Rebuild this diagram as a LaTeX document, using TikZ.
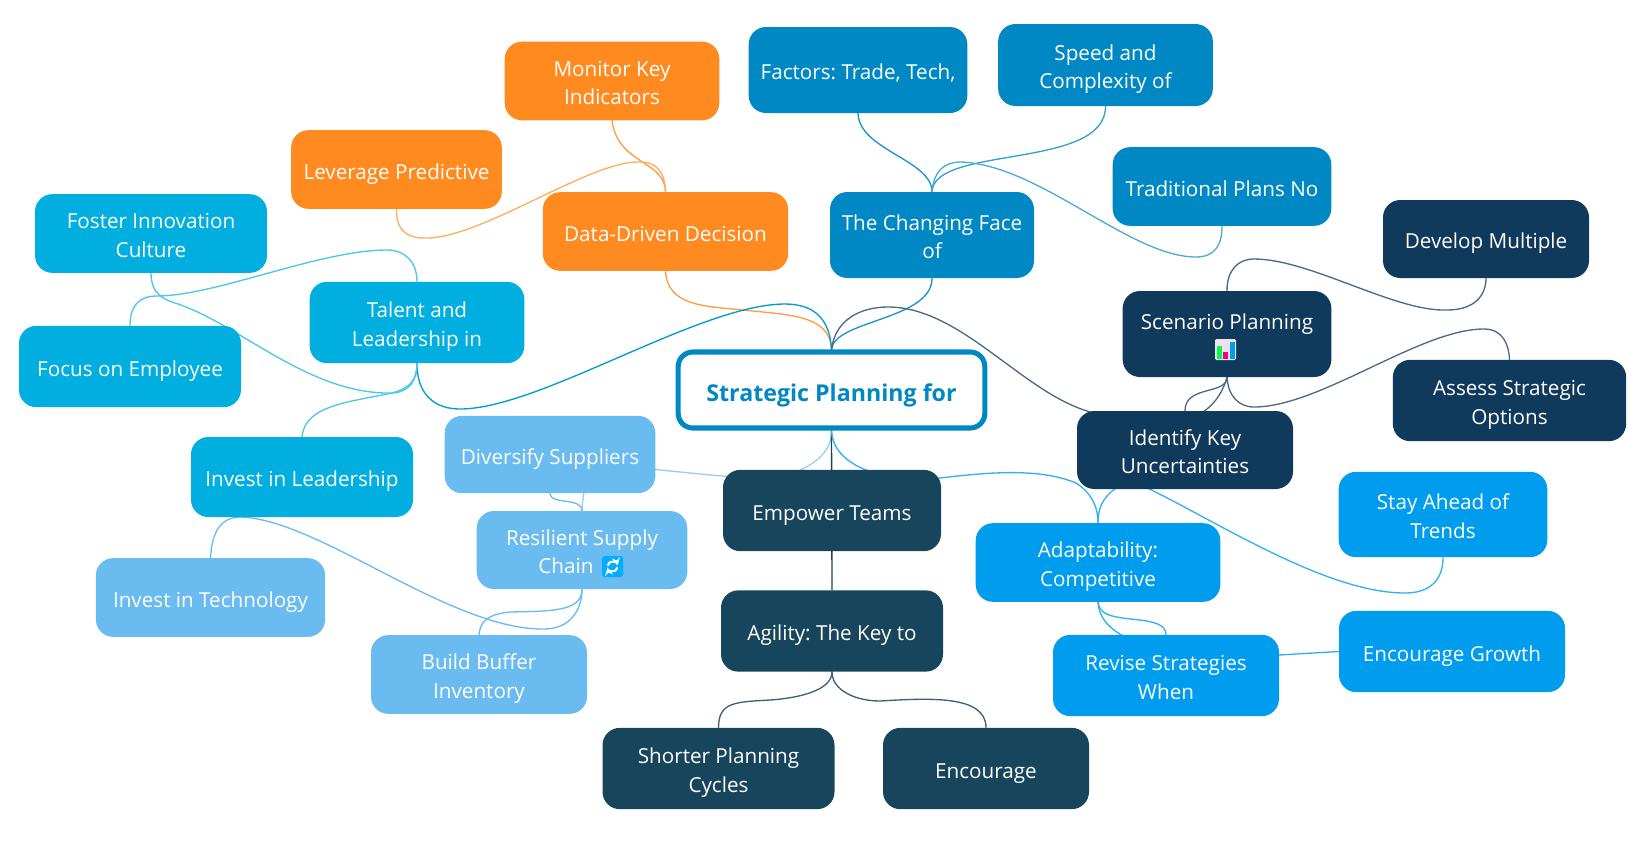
\documentclass[tikz,border=0pt]{standalone}
\usepackage{fontspec}
\setmainfont{Open Sans}
\usetikzlibrary{backgrounds}
\definecolor{orangebr}{HTML}{FF8A20}
\definecolor{changebr}{HTML}{0088C4}
\definecolor{talentbr}{HTML}{00AEE0}
\definecolor{supplybr}{HTML}{69BBF0}
\definecolor{adaptbr}{HTML}{009CEE}
\definecolor{scenbr}{HTML}{0F3A5C}
\definecolor{agilebr}{HTML}{17465C}
\definecolor{iconblue}{HTML}{00AEFF}
\tikzset{
  mapbox/.style={rounded corners=13pt,align=center,text=white,inner sep=0pt,
    font=\fontsize{15.5pt}{21.3pt}\selectfont\frenchspacing,
    execute at begin node={\rule{0pt}{18.4pt}},
    execute at end node={\rule[-4pt]{0pt}{1pt}}},
  twolines/.style={execute at begin node={\rule{0pt}{39.3pt}}},
  orangebox/.style={mapbox,fill=orangebr},
  changebox/.style={mapbox,fill=changebr},
  talentbox/.style={mapbox,fill=talentbr},
  supplybox/.style={mapbox,fill=supplybr},
  adaptbox/.style={mapbox,fill=adaptbr},
  scenbox/.style={mapbox,fill=scenbr},
  agilebox/.style={mapbox,fill=agilebr},
  link/.style={line width=1pt,line cap=round},
}
\begin{document}
\begin{tikzpicture}[x=0.75pt,y=-0.75pt]
\useasboundingbox (0,0) rectangle (1638,847);
% root
\node[mapbox,draw=changebr,fill=white,line width=3.8pt,rounded corners=11pt,text=changebr,
  execute at begin node={\rule{0pt}{21.5pt}},
  minimum width=230pt,minimum height=57pt,font=\fontsize{17.4pt}{21pt}\selectfont\bfseries] (central) at (831.5,390) {Strategic Planning for};
% orange
\node[orangebox,twolines,minimum width=161pt,minimum height=59pt] (monitor) at (612,81) {Monitor Key\\Indicators};
\node[orangebox,minimum width=158pt,minimum height=59pt] (leverage) at (396.5,169.5) {Leverage Predictive};
\node[orangebox,minimum width=184pt,minimum height=59pt] (data) at (665.5,231.5) {Data-Driven Decision};
% changing face
\node[changebox,minimum width=164pt,minimum height=64.5pt] (factors) at (858,70) {Factors: Trade, Tech,};
\node[changebox,twolines,minimum width=161pt,minimum height=61.5pt] (speed) at (1105.5,65) {Speed and\\Complexity of};
\node[changebox,twolines,minimum width=153pt,minimum height=64.5pt] (changing) at (932,235) {The Changing Face\\of};
\node[changebox,minimum width=164pt,minimum height=59pt] (traditional) at (1222,186.5) {Traditional Plans No};
% talent
\node[talentbox,twolines,minimum width=174pt,minimum height=59pt] (foster) at (151,233.5) {Foster Innovation\\Culture};
\node[talentbox,twolines,minimum width=161pt,minimum height=61pt] (talent) at (417,322.5) {Talent and\\Leadership in};
\node[talentbox,minimum width=166.5pt,minimum height=61pt] (focus) at (130,366.5) {Focus on Employee};
\node[talentbox,minimum width=166.5pt,minimum height=60pt] (investl) at (302,477) {Invest in Leadership};
% supply
\node[supplybox,minimum width=158pt,minimum height=58pt] (diversify) at (550,454.5) {Diversify Suppliers};
\node[supplybox,twolines,minimum width=158pt,minimum height=58.5pt] (resilient) at (582,550) {Resilient Supply\\Chain\hspace{24pt}\mbox{}};
\node[supplybox,minimum width=172pt,minimum height=59pt] (investt) at (210.5,597.5) {Invest in Technology};
\node[supplybox,twolines,minimum width=162pt,minimum height=59pt] (buffer) at (479,674.5) {Build Buffer\\Inventory};
% scenario
\node[scenbox,minimum width=154.5pt,minimum height=58.5pt] (develop) at (1486,239) {Develop Multiple};
\node[scenbox,twolines,minimum width=156.5pt,minimum height=64.5pt] (scenario) at (1227,334) {Scenario Planning\\\mbox{}};
\node[scenbox,twolines,minimum width=175pt,minimum height=61pt] (assess) at (1509.5,400.5) {Assess Strategic\\Options};
\node[scenbox,twolines,minimum width=162pt,minimum height=58.5pt] (identify) at (1185,450) {Identify Key\\Uncertainties};
% agility
\node[agilebox,minimum width=163.5pt,minimum height=61pt] (empower) at (832,510.5) {Empower Teams};
\node[agilebox,minimum width=166.5pt,minimum height=61pt] (agility) at (832,631) {Agility: The Key to};
\node[agilebox,twolines,minimum width=174pt,minimum height=61pt] (shorter) at (718.5,768.5) {Shorter Planning\\Cycles};
\node[agilebox,minimum width=154.5pt,minimum height=61pt] (encourage) at (986,768.5) {Encourage};
% adaptability
\node[adaptbox,twolines,minimum width=183.5pt,minimum height=59pt] (adapt) at (1098,562.5) {Adaptability:\\Competitive};
\node[adaptbox,twolines,minimum width=169.5pt,minimum height=61pt] (revise) at (1166,675.5) {Revise Strategies\\When};
\node[adaptbox,twolines,minimum width=156.5pt,minimum height=64pt] (stay) at (1443,514.5) {Stay Ahead of\\Trends};
\node[adaptbox,minimum width=169.5pt,minimum height=61pt] (growth) at (1452,651.5) {Encourage Growth};
% icons
\fill[rounded corners=1pt,fill=white!88!violet] (1215,339) rectangle (1236,360);
\fill[green!75!cyan] (1217,346) rectangle (1222,359);
\fill[magenta!90!red] (1223,352) rectangle (1228,359);
\fill[adaptbr] (1230,342) rectangle (1235,359);
\fill[rounded corners=2pt,fill=iconblue] (602,556) rectangle (623,577);
\draw[white,line width=1.6pt,->,>=stealth] (607.6,565.6) arc[start angle=190,end angle=350,radius=5];
\draw[white,line width=1.6pt,->,>=stealth] (617.4,567.4) arc[start angle=10,end angle=170,radius=5];
% links behind the boxes
\begin{scope}[on background layer]
\draw[link,orangebr!85] (central.north) .. controls (830,315) and (790,315) .. (743,310) .. controls (700,306) and (668,305) .. (data.south);
\draw[link,orangebr!85] (data.north) .. controls (665,160) and (618,165) .. (monitor.south);
\draw[link,orangebr!70] (data.north) .. controls (665,170) and (655,162) .. (640,162) .. controls (590,160) and (480,240) .. (424,238) .. controls (402,238) and (396,225) .. (leverage.south);
\draw[link,changebr!90] (central.north) .. controls (834,320) and (932,320) .. (changing.south);
\draw[link,changebr!90] (changing.north) .. controls (932,160) and (859,150) .. (factors.south);
\draw[link,changebr!80] (changing.north) .. controls (934,145) and (1106,170) .. (speed.south);
\draw[link,changebr!70] (changing.north) .. controls (934,170) and (945,162) .. (961,162) .. controls (1040,165) and (1130,257) .. (1196,257) .. controls (1215,257) and (1222,245) .. (traditional.south);
\draw[link,talentbr!90!black] (central.north) .. controls (830,320) and (815,304) .. (785,304) .. controls (700,304) and (540,409) .. (460,409) .. controls (435,409) and (417,395) .. (talent.south);
\draw[link,talentbr!70] (focus.north) .. controls (130,305) and (140,296) .. (157,296) .. controls (215,296) and (320,250) .. (387,250) .. controls (405,250) and (417,262) .. (talent.north);
\draw[link,talentbr!70] (foster.south) .. controls (151,295) and (165,300) .. (178,304) .. controls (240,325) and (310,395) .. (392,393) .. controls (410,392) and (417,380) .. (talent.south);
\draw[link,talentbr!70] (investl.north) .. controls (305,405) and (350,402) .. (392,393) .. controls (410,388) and (417,380) .. (talent.south);
\draw[link,supplybr!70] (central.south) .. controls (832,455) and (810,468) .. (780,478) .. controls (730,480) and (660,468) .. (600,465) .. controls (587,470) and (583,490) .. (resilient.north);
\draw[link,supplybr] (diversify.south) .. controls (550,505) and (582,497) .. (resilient.north);
\draw[link,supplybr] (investt.north) .. controls (212,530) and (222,517) .. (241,517) .. controls (320,520) and (450,630) .. (544,629) .. controls (570,629) and (582,610) .. (resilient.south);
\draw[link,supplybr] (buffer.north) .. controls (480,620) and (490,614) .. (510,612) .. controls (550,611) and (582,612) .. (resilient.south);
\draw[link,agilebr] (central.south) -- (agility.north);
\draw[link,agilebr!85] (agility.south) .. controls (832,690) and (855,701) .. (880,701) .. controls (930,698) and (986,695) .. (encourage.north);
\draw[link,agilebr!85] (agility.south) .. controls (832,690) and (800,698) .. (770,700) .. controls (735,702) and (718.5,702) .. (shorter.north);
\draw[link,scenbr!75] (central.north) .. controls (835,320) and (860,307) .. (888,307) .. controls (960,307) and (1020,390) .. (1087,411) .. controls (1170,440) and (1215,420) .. (scenario.south);
\draw[link,scenbr!75] (scenario.south) .. controls (1227,395) and (1185,385) .. (identify.north);
\draw[link,scenbr!75] (scenario.north) .. controls (1227,270) and (1238,259) .. (1254,259) .. controls (1310,259) and (1395,312) .. (1447,310) .. controls (1475,310) and (1486,295) .. (develop.south);
\draw[link,scenbr!75] (scenario.south) .. controls (1228,395) and (1238,407) .. (1254,407) .. controls (1320,407) and (1420,329) .. (1484,329) .. controls (1503,329) and (1509,345) .. (assess.north);
\draw[link,adaptbr!80] (central.south) .. controls (833,465) and (880,483) .. (940,478) .. controls (990,472) and (1040,468) .. (1076,483) .. controls (1090,492) and (1098,505) .. (adapt.north);
\draw[link,adaptbr!80] (adapt.north) .. controls (1098,500) and (1110,490) .. (1130,480) .. controls (1200,510) and (1320,593) .. (1405,593) .. controls (1430,593) and (1443,580) .. (stay.south);
\draw[link,adaptbr!80] (adapt.south) .. controls (1100,615) and (1110,617) .. (1140,620) .. controls (1155,622) and (1166,625) .. (revise.north);
\draw[link,adaptbr!80] (adapt.south) .. controls (1100,640) and (1160,660) .. (1279,655) -- (growth.west);
\end{scope}
\end{tikzpicture}
\end{document}
